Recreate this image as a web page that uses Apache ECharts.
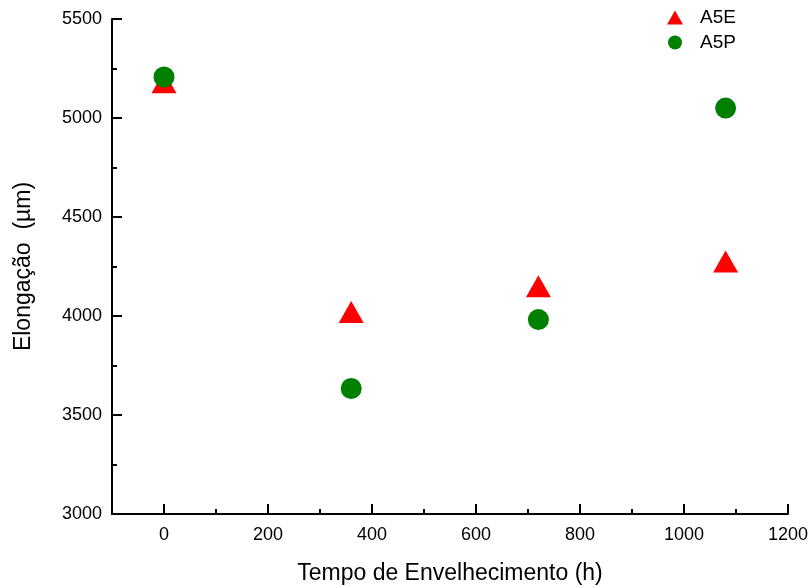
<!DOCTYPE html>
<html>
<head>
<meta charset="utf-8">
<script src="https://cdn.jsdelivr.net/npm/echarts@6/dist/echarts.min.js"></script>
<style>
  html, body { margin: 0; padding: 0; background: #fff; }
  #chart { width: 810px; height: 587px; }
</style>
</head>
<body>
<div id="chart"></div>
<script>
// aging time (h)
const tempo = [0, 360, 720, 1080];
// elongation (um)
const a5e = [5180, 4020, 4150, 4275];
const a5p = [5207, 3634, 3982, 5050];

const xMajor = [0, 200, 400, 600, 800, 1000, 1200];
const xMinor = [100, 300, 500, 700, 900, 1100];

const font = 'Liberation Sans, Arial, sans-serif';

const myChart = echarts.init(document.getElementById('chart'));

myChart.setOption({
    animation: false,
    backgroundColor: '#fff',
    grid: { left: 112, right: 22, top: 19, bottom: 73, outerBoundsMode: 'none' },
    legend: {
        orient: 'vertical',
        left: 662,
        top: 3,
        itemWidth: 16,
        itemHeight: 14,
        itemGap: 6,
        textStyle: { fontFamily: font, fontSize: 19, color: '#000', padding: [0, 0, 0, 12] },
        data: [
            { name: 'A5E', icon: 'triangle' },
            { name: 'A5P', icon: 'circle' }
        ]
    },
    xAxis: [{
        type: 'value',
        min: -100,
        max: 1200,
        name: 'Tempo de Envelhecimento (h)',
        nameLocation: 'middle',
        nameGap: 48,
        nameTextStyle: { fontFamily: font, fontSize: 23, color: '#000' },
        splitLine: { show: false },
        axisLine: { onZero: false, lineStyle: { color: '#000', width: 2 } },
        axisTick: { inside: true, length: 10, customValues: xMajor, lineStyle: { color: '#000', width: 2 } },
        axisLabel: { customValues: xMajor, margin: 12, fontFamily: font, fontSize: 18, color: '#000', formatter: v => String(v) }
    }, {
        type: 'value',
        min: -100,
        max: 1200,
        position: 'bottom',
        splitLine: { show: false },
        axisLine: { show: false },
        axisTick: { inside: true, length: 5, customValues: xMinor, lineStyle: { color: '#000', width: 2 } },
        axisLabel: { show: false }
    }],
    yAxis: {
        type: 'value',
        min: 3000,
        max: 5500,
        interval: 500,
        name: 'Elongação  (\u00b5m)',
        nameLocation: 'middle',
        nameGap: 77,
        nameTextStyle: { fontFamily: font, fontSize: 23, color: '#000' },
        splitLine: { show: false },
        axisLine: { onZero: false, lineStyle: { color: '#000', width: 2 } },
        axisTick: { inside: true, length: 10, lineStyle: { color: '#000', width: 2 } },
        minorTick: { show: true, splitNumber: 2, length: 5, lineStyle: { color: '#000', width: 2 } },
        axisLabel: { margin: 10, fontFamily: font, fontSize: 18, color: '#000', formatter: v => String(v) }
    },
    series: [{
        name: 'A5E',
        type: 'scatter',
        symbol: 'triangle',
        symbolSize: [25, 22],
        itemStyle: { color: '#ff0000', opacity: 1 },
        data: tempo.map((t, i) => [t, a5e[i]])
    }, {
        name: 'A5P',
        type: 'scatter',
        symbol: 'circle',
        symbolSize: 21,
        itemStyle: { color: '#008000', opacity: 1 },
        data: tempo.map((t, i) => [t, a5p[i]])
    }]
});
</script>
</body>
</html>
